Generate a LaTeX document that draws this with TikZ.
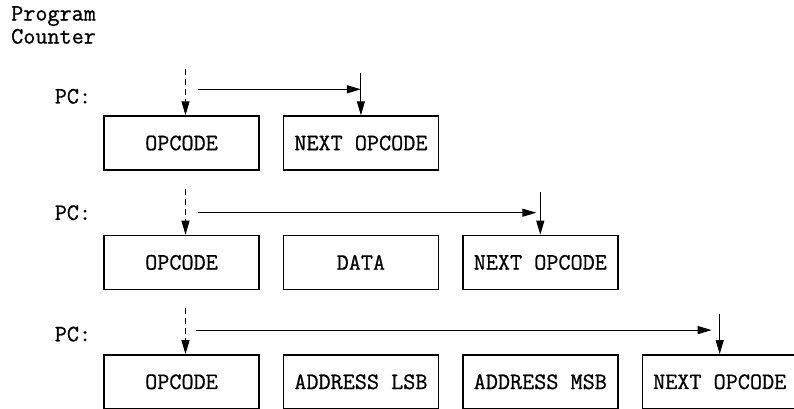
\documentclass[tikz,border=0pt]{standalone}
\usepackage{fontspec}
\usepackage{tikz}
\usetikzlibrary{positioning,arrows.meta}

% typewriter face, a little heavier than plain LM Mono
\newfontfamily\typefont{Latin Modern Mono}[FakeBold=0.8]

\begin{document}
\begin{tikzpicture}[
    x=1pt, y=1pt,
    node distance=64pt and 23pt,
    membox/.style={rectangle, draw, line width=1.4pt, minimum width=155pt, minimum height=54pt, inner sep=0pt, font=\typefont\fontsize{23.5}{26}\selectfont},
    pclabel/.style={inner sep=0pt, font=\typefont\fontsize{23.5}{26}\selectfont},
    ptr/.style={line width=1pt, -{Triangle[length=14pt,width=8pt]}}
]
\useasboundingbox (0,0) rectangle (794,-409);

% Title
\node[pclabel, anchor=north west, align=left, font=\typefont\fontsize{23.5}{23}\selectfont] (title) at (11,-6) {Program\\Counter};

% One byte instruction
\node[membox] (op1) at (181.5,-143) {OPCODE};
\node[membox, right=of op1] (next1) {NEXT OPCODE};
\node[pclabel, left=12pt of op1.north west, yshift=19pt] (pc1) {PC:};

\coordinate (d1) at ([xshift=4pt, yshift=46pt]op1.north);
\coordinate (h1) at ([xshift=16pt, yshift=26pt]op1.north);
\coordinate (t1) at ([yshift=42pt]next1.north);
\draw[ptr, dash pattern=on 6pt off 4pt] (d1) -- (d1 |- op1.north);
\draw[ptr] (t1) -- (next1.north);
\draw[ptr] (h1) -- (h1 -| t1);

% Two byte instruction
\node[membox, below=of op1] (op2) {OPCODE};
\node[membox, right=of op2] (data2) {DATA};
\node[membox, right=of data2] (next2) {NEXT OPCODE};
\node[pclabel, left=12pt of op2.north west, yshift=22pt] (pc2) {PC:};

\coordinate (d2) at ([xshift=4pt, yshift=46pt]op2.north);
\coordinate (h2) at ([xshift=16pt, yshift=22pt]op2.north);
\coordinate (t2) at ([yshift=43pt]next2.north);
\draw[ptr, dash pattern=on 6pt off 4pt] (d2) -- (d2 |- op2.north);
\draw[ptr] (t2) -- (next2.north);
\draw[ptr, shorten >=4pt] (h2) -- (h2 -| t2);

% Three byte instruction
\node[membox, below=of op2] (op3) {OPCODE};
\node[membox, right=of op3] (lsb3) {ADDRESS LSB};
\node[membox, right=of lsb3] (msb3) {ADDRESS MSB};
\node[membox, right=of msb3] (next3) {NEXT OPCODE};
\node[pclabel, left=12pt of op3.north west, yshift=20pt] (pc3) {PC:};

\coordinate (d3) at ([xshift=4pt, yshift=46pt]op3.north);
\coordinate (h3) at ([xshift=14pt, yshift=24pt]op3.north);
\coordinate (t3) at ([yshift=40pt]next3.north);
\draw[ptr, dash pattern=on 6pt off 4pt] (d3) -- (d3 |- op3.north);
\draw[ptr] (t3) -- (next3.north);
\draw[ptr, shorten >=8pt] (h3) -- (h3 -| t3);
\end{tikzpicture}
\end{document}
